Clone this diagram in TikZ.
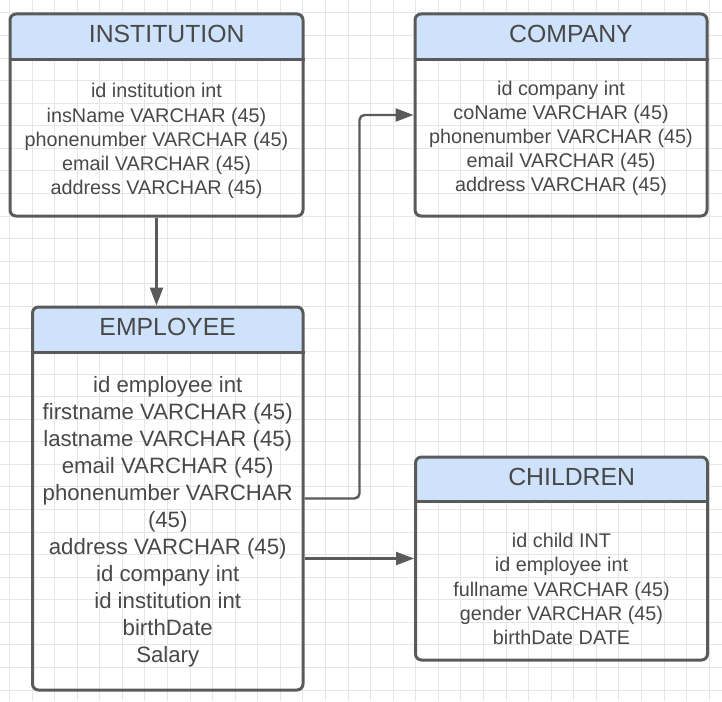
\documentclass[tikz,border=0pt]{standalone}
\usepackage{fontspec}
\setmainfont{Liberation Sans}
\usetikzlibrary{arrows.meta}

\definecolor{headblue}{RGB}{207,226,251}
\definecolor{boxgray}{RGB}{90,90,90}
\definecolor{textgray}{RGB}{72,72,72}
\definecolor{gridgray}{RGB}{230,230,230}

\tikzset{
    tbl/.style={draw=boxgray, line width=3pt, rounded corners=6pt, inner sep=0pt,
        path picture={\fill[headblue] (path picture bounding box.north west)
            rectangle ([yshift=-47pt]path picture bounding box.north east);}},
    tbltitle/.style={text=textgray, inner sep=0pt, font=\fontsize{24.8}{30}\selectfont},
    tblrows/.style={text=textgray, inner sep=0pt, align=center, font=\fontsize{19.8}{24.1}\selectfont},
    tblbigrows/.style={tblrows, font=\fontsize{22.2}{27}\selectfont},
    sepline/.style={draw=boxgray, line width=3pt}
}

\begin{document}
\begin{tikzpicture}[x=1pt,y=-1pt]
    \useasboundingbox (0,0) rectangle (722,701);

    % background grid
    \foreach \i in {0,...,31}
        \draw[gridgray, line width=1pt] ({9.5+22.57*\i},0) -- ({9.5+22.57*\i},701);
    \foreach \j in {0,...,30}
        \draw[gridgray, line width=1pt] (0,{13+22.57*\j}) -- (722,{13+22.57*\j});

    \begin{scope}[every node/.style={tbl}]
        \node[minimum width=293pt, minimum height=202pt] (inst) at (156.5,115) {};
        \node[minimum width=292pt, minimum height=202pt] (comp) at (561,115) {};
        \node[minimum width=270.5pt, minimum height=383pt] (emp) at (167.75,498.5) {};
        \node[minimum width=292pt, minimum height=203pt, path picture={\fill[headblue] (path picture bounding box.north west)
            rectangle ([yshift=-46pt]path picture bounding box.north east);}] (chi) at (561.5,558.5) {};
    \end{scope}

    \draw[sepline] ([yshift=-47pt]inst.north west) -- ([yshift=-47pt]inst.north east);
    \draw[sepline] ([yshift=-47pt]comp.north west) -- ([yshift=-47pt]comp.north east);
    \draw[sepline] ([yshift=-47pt]emp.north west) -- ([yshift=-47pt]emp.north east);
    \draw[sepline] ([yshift=-46pt]chi.north west) -- ([yshift=-46pt]chi.north east);

    \node[tbltitle] (inst-title) at (166.7,34) {INSTITUTION};
    \node[tbltitle] (comp-title) at (571,34) {COMPANY};
    \node[tbltitle] (emp-title) at (167.7,327) {EMPLOYEE};
    \node[tbltitle] (chi-title) at (571.7,477) {CHILDREN};

    \node[tblrows] (inst-rows) at (156.5,141) {id institution int\\insName VARCHAR (45)\\phonenumber VARCHAR (45)\\email VARCHAR (45)\\address VARCHAR (45)};
    \node[tblrows] (comp-rows) at (561,138.5) {id company int\\coName VARCHAR (45)\\phonenumber VARCHAR (45)\\email VARCHAR (45)\\address VARCHAR (45)};
    \node[tblbigrows] (emp-rows) at (167.75,521.5) {id employee int\\firstname VARCHAR (45)\\lastname VARCHAR (45)\\email VARCHAR (45)\\phonenumber VARCHAR\\(45)\\address VARCHAR (45)\\id company int\\id institution int\\birthDate\\Salary};
    \node[tblrows] (chi-rows) at (561.5,589) {id child INT\\id employee int\\fullname VARCHAR (45)\\gender VARCHAR (45)\\birthDate DATE};

    \begin{scope}[>={Triangle[length=18pt,width=13pt]},
                  every edge/.style={draw=boxgray, line width=2.4pt}]
        \path [->] (inst.south) edge (inst.south |- emp.north);
        \path [->] (emp.east) edge[rounded corners=5pt, to path={-- ++(55,0) |- (\tikztotarget)}] (comp.west);
        \path [->] (emp.east |- chi.west) edge (chi.west);
    \end{scope}
\end{tikzpicture}
\end{document}
